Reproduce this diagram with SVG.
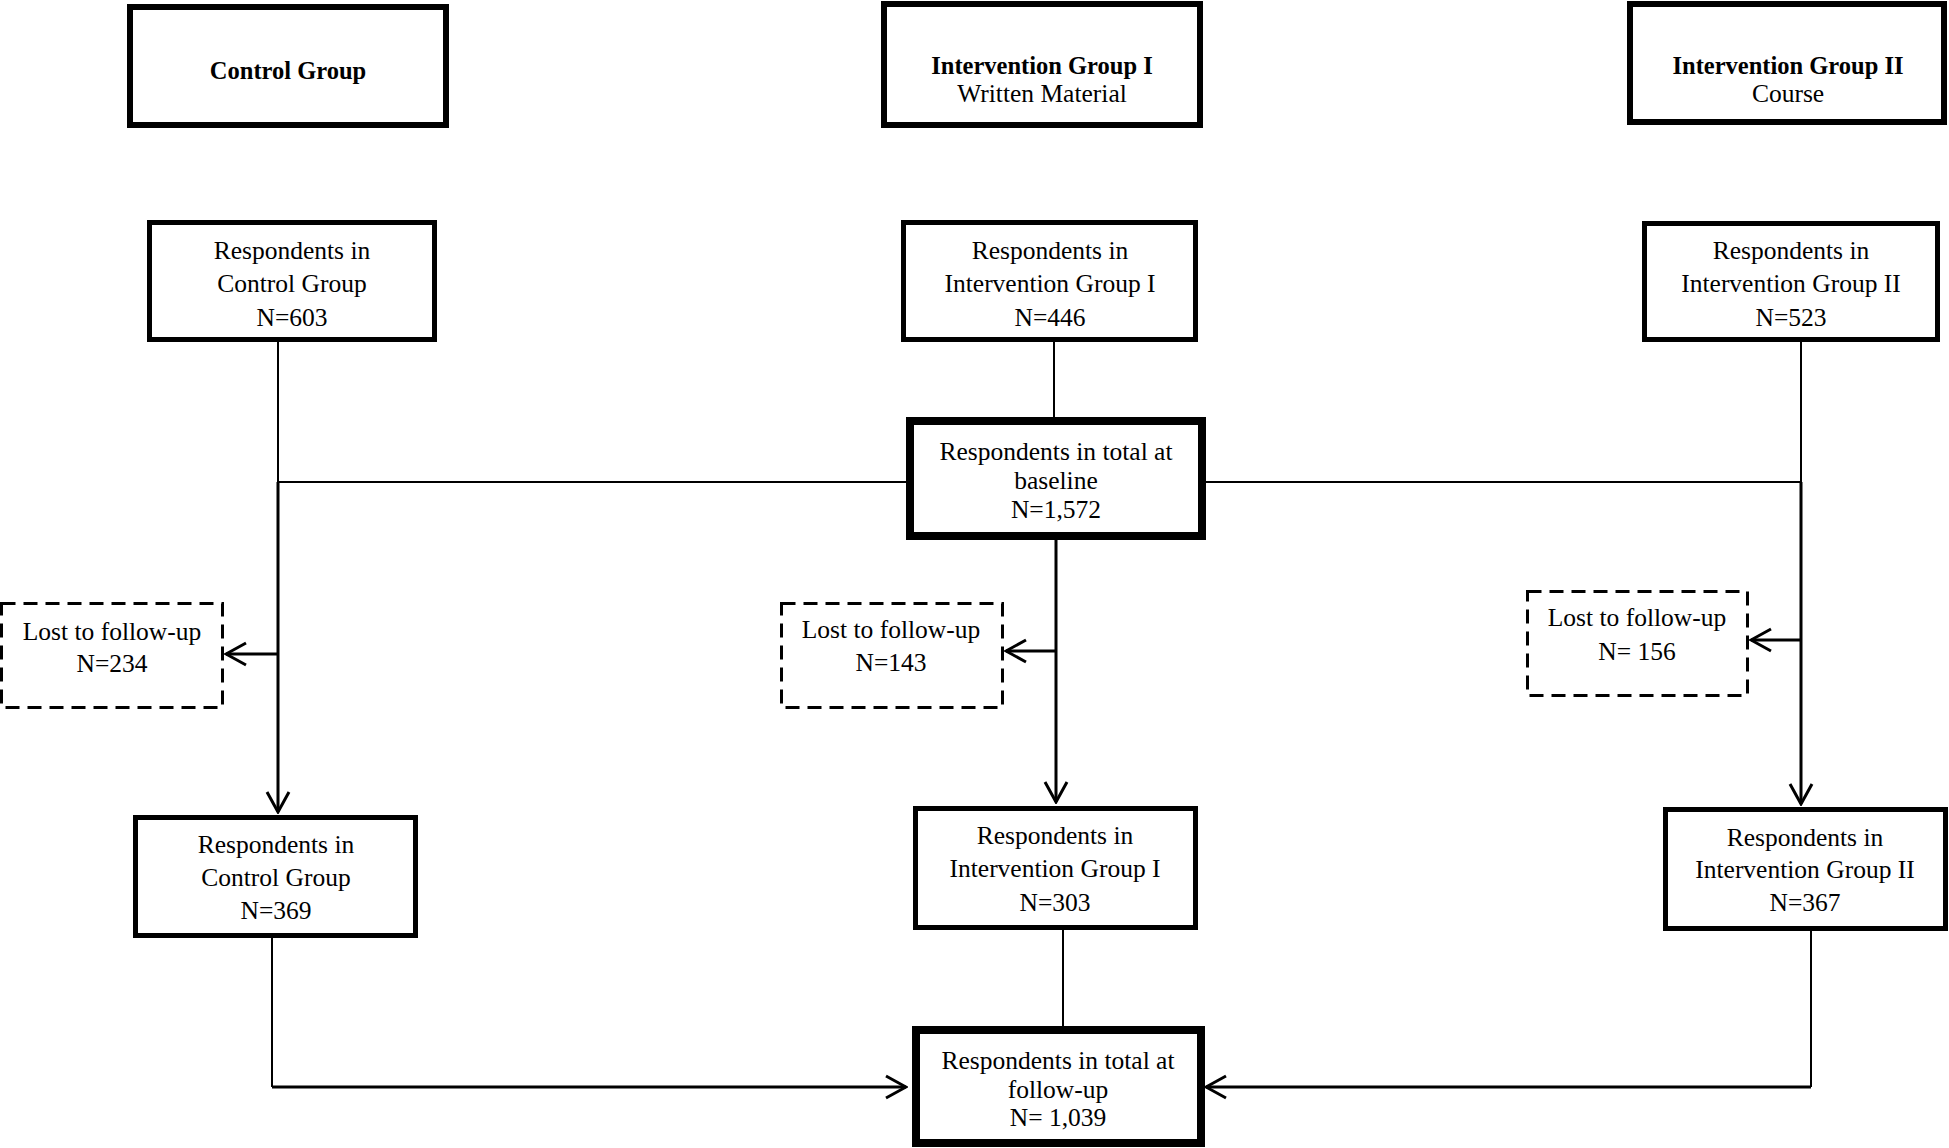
<svg xmlns="http://www.w3.org/2000/svg" width="1949" height="1148" viewBox="0 0 1949 1148">
<style>
  .bg{fill:#fff}
  .box{fill:#fff;stroke:#000;stroke-width:5}
  .hdr{fill:#fff;stroke:#000;stroke-width:6}
  .tot{fill:#fff;stroke:#000;stroke-width:8}
  .lost{fill:#fff;stroke:#000;stroke-width:3;stroke-dasharray:14 8}
  text{font-family:"Liberation Serif","Times New Roman",serif;font-size:25.5px;text-anchor:middle;fill:#000}
  .b{font-weight:bold;font-size:24.5px}
  .ln{fill:none;stroke:#000;stroke-width:2}
  .ar{fill:none;stroke:#000;stroke-width:3}
</style>
<defs>
  <marker id="arr" markerUnits="userSpaceOnUse" viewBox="-23 -13 25 26" markerWidth="25" markerHeight="26" refX="0" refY="0" orient="auto">
    <path d="M-20,-11 L0,0 L-20,11" fill="none" stroke="#000" stroke-width="3"/>
  </marker>
</defs>
<rect class="bg" x="0" y="0" width="1949" height="1148"/>

<g id="connectors">
  <path class="ln" d="M278,342 V482"/>
  <path class="ln" d="M278,482 H906"/>
  <path class="ln" d="M1206,482 H1801"/>
  <path class="ar" d="M278,482 V812" marker-end="url(#arr)"/>
  <path class="ar" d="M278,654 H226" marker-end="url(#arr)"/>
  <path class="ln" d="M272,938 V1087"/>
  <path class="ar" d="M272,1087 H906" marker-end="url(#arr)"/>

  <path class="ln" d="M1054,342 V417"/>
  <path class="ar" d="M1056,540 V802" marker-end="url(#arr)"/>
  <path class="ar" d="M1056,651 H1006" marker-end="url(#arr)"/>
  <path class="ln" d="M1063,930 V1026"/>

  <path class="ln" d="M1801,342 V482"/>
  <path class="ar" d="M1801,482 V804" marker-end="url(#arr)"/>
  <path class="ar" d="M1801,640 H1751" marker-end="url(#arr)"/>
  <path class="ln" d="M1811,931 V1087"/>
  <path class="ar" d="M1811,1087 H1206" marker-end="url(#arr)"/>
</g>

<g id="hdr-control">
  <rect class="hdr" x="130" y="7" width="316" height="118"/>
  <text class="b" x="288" y="78.5">Control Group</text>
</g>
<g id="hdr-ig1">
  <rect class="hdr" x="884" y="4" width="316" height="121"/>
  <text class="b" x="1042" y="73.5">Intervention Group I</text>
  <text x="1042" y="101.5">Written Material</text>
</g>
<g id="hdr-ig2">
  <rect class="hdr" x="1630" y="4" width="314" height="118"/>
  <text class="b" x="1788" y="73.5">Intervention Group II</text>
  <text x="1788" y="101.5">Course</text>
</g>

<g id="base-control">
  <rect class="box" x="149.5" y="222.5" width="285" height="117"/>
  <text x="292" y="258.5">Respondents in</text>
  <text x="292" y="291.5">Control Group</text>
  <text x="292" y="325.5">N=603</text>
</g>
<g id="base-ig1">
  <rect class="box" x="903.5" y="222.5" width="292" height="117"/>
  <text x="1050" y="258.5">Respondents in</text>
  <text x="1050" y="291.5">Intervention Group I</text>
  <text x="1050" y="325.5">N=446</text>
</g>
<g id="base-ig2">
  <rect class="box" x="1644.5" y="223.5" width="293" height="116"/>
  <text x="1791" y="258.5">Respondents in</text>
  <text x="1791" y="291.5">Intervention Group II</text>
  <text x="1791" y="325.5">N=523</text>
</g>

<g id="total-baseline">
  <rect class="tot" x="910" y="421" width="292" height="115"/>
  <text x="1056" y="459.5">Respondents in total at</text>
  <text x="1056" y="488.5">baseline</text>
  <text x="1056" y="517.5">N=1,572</text>
</g>

<g id="lost-control">
  <rect class="lost" x="1.5" y="603.5" width="221" height="104"/>
  <text x="112" y="639.5">Lost to follow-up</text>
  <text x="112" y="671.5">N=234</text>
</g>
<g id="lost-ig1">
  <rect class="lost" x="781.5" y="603.5" width="221" height="104"/>
  <text x="891" y="637.5">Lost to follow-up</text>
  <text x="891" y="670.5">N=143</text>
</g>
<g id="lost-ig2">
  <rect class="lost" x="1527.5" y="591.5" width="220" height="104"/>
  <text x="1637" y="625.5">Lost to follow-up</text>
  <text x="1637" y="659.5">N= 156</text>
</g>

<g id="fu-control">
  <rect class="box" x="135.5" y="817.5" width="280" height="118"/>
  <text x="276" y="852.5">Respondents in</text>
  <text x="276" y="885.5">Control Group</text>
  <text x="276" y="918.5">N=369</text>
</g>
<g id="fu-ig1">
  <rect class="box" x="915.5" y="808.5" width="280" height="119"/>
  <text x="1055" y="843.5">Respondents in</text>
  <text x="1055" y="876.5">Intervention Group I</text>
  <text x="1055" y="910.5">N=303</text>
</g>
<g id="fu-ig2">
  <rect class="box" x="1665.5" y="809.5" width="280" height="119"/>
  <text x="1805" y="845.5">Respondents in</text>
  <text x="1805" y="877.5">Intervention Group II</text>
  <text x="1805" y="910.5">N=367</text>
</g>

<g id="total-followup">
  <rect class="tot" x="916" y="1030" width="285" height="113"/>
  <text x="1058" y="1068.5">Respondents in total at</text>
  <text x="1058" y="1097.5">follow-up</text>
  <text x="1058" y="1125.5">N= 1,039</text>
</g>
</svg>
